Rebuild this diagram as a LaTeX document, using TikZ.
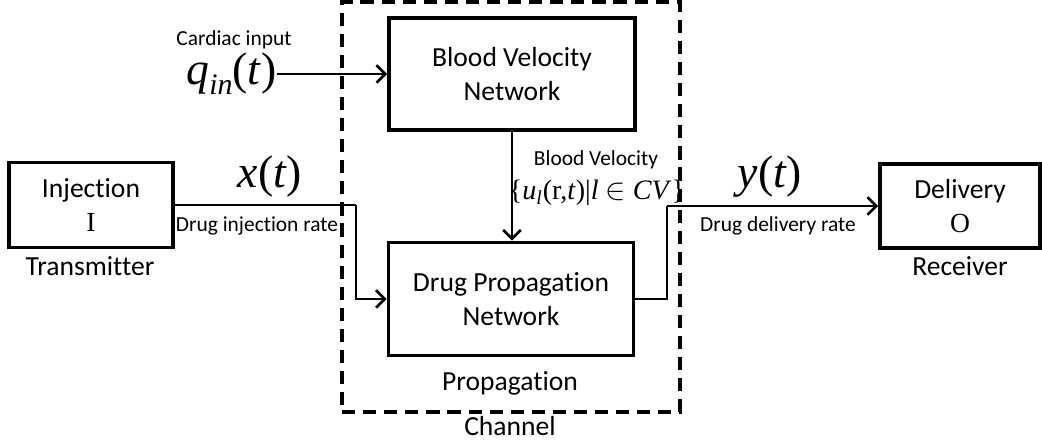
\documentclass[tikz,border=0pt]{standalone}
\usepackage{fontspec}
\setmainfont{Carlito}[Ligatures=NoCommon]
\newfontfamily\tms{Liberation Serif}
\usetikzlibrary{arrows.meta}

\begin{document}
\begin{tikzpicture}[x=0.02cm,y=-0.02cm,
  block/.style={draw,line width=2.1pt,align=center,inner sep=0pt,
    font=\fontsize{15.7}{19.5}\selectfont},
  chanbox/.style={draw,line width=1.9pt,dash pattern=on 7.5pt off 4.5pt,inner sep=0pt},
  flow/.style={line width=1.5pt,-{Straight Barb[length=5pt,width=10pt,line width=1.5pt]}},
  wire/.style={line width=1.5pt},
  big/.style={font=\fontsize{15.7}{19.5}\selectfont},
  small/.style={font=\fontsize{12.2}{14}\selectfont,inner sep=1pt},
  sig/.style={font=\fontsize{26}{30}\selectfont\tms,inner sep=0pt}]
 \useasboundingbox (0,0) rectangle (1042,442);

 % propagation channel
 \node[chanbox,minimum width=6.76cm,minimum height=8.2cm] (chan) at (511,207) {};
 \node[big] (chanA) at (510,383) {Propagation};
 \node[big] (chanB) at (510,426) {Channel};

 \node[block,minimum width=4.92cm,minimum height=2.24cm] (blood) at (512,74)
   {Blood Velocity\\Network};
 \node[block,minimum width=4.9cm,minimum height=2.26cm] (drug) at (511,299)
   {Drug Propagation\\Network};

 \node[block,minimum width=3.28cm,minimum height=1.7cm] (inj) at (91,205)
   {Injection\\{\tms I}};
 \node[big] (tx) at (90,266) {Transmitter};
 \node[block,minimum width=3.2cm,minimum height=1.68cm] (deliv) at (960,206)
   {Delivery\\{\tms O}};
 \node[big] (rx) at (960,266) {Receiver};

 % cardiac input
 \node[small] (cardiac) at (234,40) {Cardiac input};
 \node[sig,anchor=east] (qin) at (277,74)
   {\textit{q}\raisebox{-0.45ex}{\fontsize{17}{17}\selectfont\textit{in}}(\textit{t})};
 \draw[flow] (qin.east) -- (qin.east -| blood.west);

 % blood velocity
 \draw[flow] (blood.south) -- (blood.south |- drug.north);
 \node[small] (bvel) at (596,160) {Blood Velocity};
 \node[font=\fontsize{16}{18}\selectfont\tms,inner sep=0pt] (ufield) at (597,193)
   {\{\textit{u}\textsubscript{\textit{l}}(r,\textit{t})|\textit{l} $\in$ \textit{CV}\}};

 % injection to channel
 \coordinate (xbend) at (356,205);
 \draw[wire] (inj.east) -- (xbend);
 \draw[flow] (xbend) |- (drug.west);
 \node[sig] (xt) at (270,177) {\textit{x}(\textit{t})};
 \node[small] (xrate) at (257,226) {Drug injection rate};

 % channel to delivery
 \coordinate (ybend) at (667,206);
 \draw[wire] (drug.east) -| (ybend);
 \draw[flow] (ybend) -- (deliv.west);
 \node[sig] (yt) at (770,177) {\textit{y}(\textit{t})};
 \node[small] (yrate) at (778,226) {Drug delivery rate};
\end{tikzpicture}
\end{document}
